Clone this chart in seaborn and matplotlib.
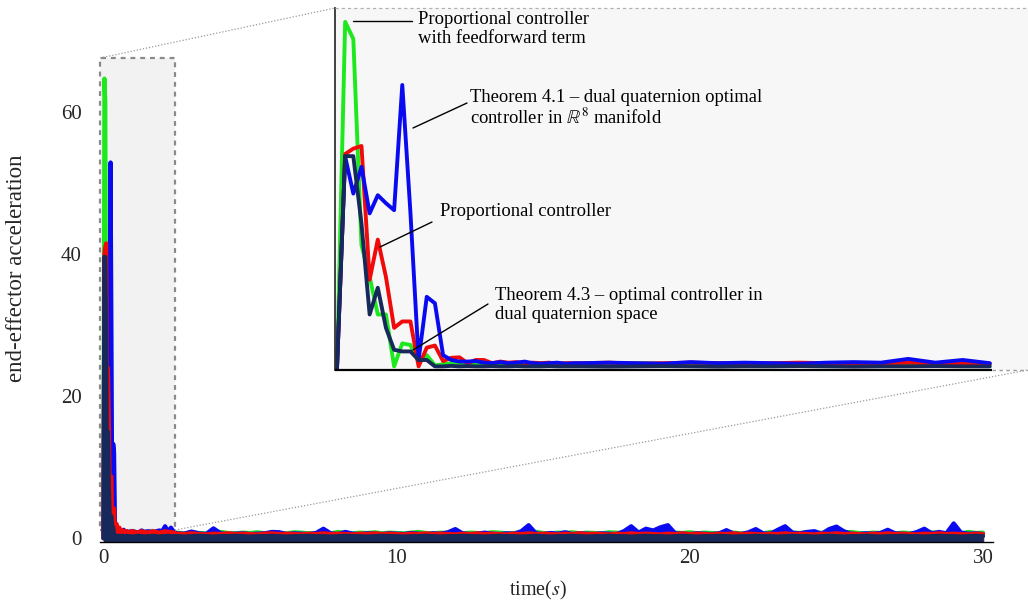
import numpy as np
import pandas as pd
import matplotlib
matplotlib.use("Agg")
import matplotlib.pyplot as plt
import seaborn as sns
from matplotlib.lines import Line2D
from matplotlib.patches import Rectangle

sns.set_style("white")
plt.rcParams['font.family'] = ['Liberation Serif', 'DejaVu Serif']
plt.rcParams['mathtext.fontset'] = 'stix'

# ---------------- data ----------------
t_fast = np.round(np.arange(30) * 0.03, 2)          # 0 .. 0.87 s
t_mid = np.round(np.arange(0.9, 2.45, 0.1), 2)      # 0.9 .. 2.4 s
t_slow = np.round(np.arange(2.5, 30.01, 0.25), 2)   # 2.5 .. 30 s
time = np.concatenate([t_fast, t_mid, t_slow])

green_fast = [0, 64.7, 61.5, 23, 17, 10, 10, 0.3, 4.6, 4.3,
              1.2, 2.4, 0.5, 0.7, 0.9, 0.6, 0.8, 0.7, 0.9, 0.8,
              0.7, 0.9, 0.8, 0.7, 0.8, 0.9, 0.7, 0.8, 0.8, 0.7]
red_fast = [0, 40, 41, 41.5, 16.5, 24, 17, 7.5, 8.7, 8.7,
            0.3, 3.8, 4.2, 1.3, 1.9, 2.0, 0.9, 1.5, 1.5, 0.9,
            1.2, 1.0, 1.1, 0.9, 1.0, 0.9, 1.0, 0.8, 0.9, 0.9]
blue_fast = [0, 39.5, 32.6, 37.6, 28.9, 32.3, 30.8, 29.5, 52.9, 29,
             1.5, 13.3, 12.1, 2.4, 1.5, 1.2, 1.2, 1.3, 1.0, 0.9,
             1.1, 0.9, 1.0, 1.2, 0.9, 0.8, 0.9, 1.0, 0.8, 0.9]
navy_fast = [0, 39.6, 39.6, 27, 10, 15, 7.5, 3.4, 3.1, 3.1,
             1.5, 1.5, 0.3, 0.3, 0.4, 0.3, 0.35, 0.3, 0.3, 0.35,
             0.3, 0.3, 0.35, 0.3, 0.3, 0.3, 0.35, 0.3, 0.3, 0.3]

green_mid = [0.8, 0.7, 0.9, 0.8, 0.7, 0.9, 0.8, 0.8, 0.7, 0.9, 0.8, 0.7, 0.8, 0.9, 0.8, 0.7]
red_mid = [0.9, 1.0, 0.8, 0.9, 1.0, 0.9, 0.8, 0.9, 1.0, 0.9, 0.8, 0.9, 1.0, 0.9, 0.9, 0.8]
blue_mid = [0.9, 1.0, 0.9, 0.8, 1.1, 0.9, 1.0, 0.9, 0.8, 1.0, 1.1, 1.0, 1.7, 1.0, 1.5, 0.9]
navy_mid = [0.3, 0.25, 0.3, 0.35, 0.3, 0.25, 0.3, 0.3, 0.35, 0.3, 0.25, 0.3, 0.3, 0.35, 0.3, 0.3]

green_slow = [0.8, 0.7, 0.85, 0.75, 0.7, 0.8, 0.9, 0.75, 0.7, 0.8,
              0.75, 0.85, 0.7, 0.8, 0.75, 0.7, 0.85, 0.8, 0.7, 0.75,
              0.8, 0.7, 0.9, 0.75, 0.7, 0.8, 0.75, 0.85, 0.7, 0.8,
              0.75, 0.7, 0.8, 0.9, 0.75, 0.7, 0.8, 0.75, 0.85, 0.7,
              0.8, 0.75, 0.7, 0.85, 0.8, 0.7, 0.75, 0.8, 0.7, 0.9,
              0.75, 0.7, 0.8, 0.75, 0.85, 0.7, 0.8, 0.75, 0.7, 0.85,
              0.8, 0.7, 0.75, 0.8, 0.7, 0.9, 0.75, 0.7, 0.8, 0.75,
              0.85, 0.7, 0.8, 0.75, 0.7, 0.85, 0.8, 0.7, 0.75, 0.8,
              0.7, 0.9, 0.75, 0.7, 0.8, 0.75, 0.85, 0.7, 0.8, 0.75,
              0.7, 0.8, 0.9, 0.75, 0.7, 0.8, 0.75, 0.85, 0.7, 0.8,
              0.75, 0.7, 0.8, 0.85, 0.7, 0.75, 0.8, 0.7, 0.9, 0.75,
              0.8]
red_slow = [0.65, 0.6, 0.7, 0.6, 0.55, 0.65, 0.6, 0.7, 0.6, 0.65,
            0.6, 0.55, 0.65, 0.7, 0.6, 0.65, 0.6, 0.55, 0.65, 0.6,
            0.7, 0.6, 0.65, 0.6, 0.55, 0.65, 0.6, 0.7, 0.6, 0.65,
            0.6, 0.55, 0.65, 0.6, 0.7, 0.6, 0.65, 0.6, 0.55, 0.65,
            0.6, 0.7, 0.6, 0.65, 0.6, 0.55, 0.65, 0.6, 0.7, 0.6,
            0.65, 0.6, 0.55, 0.65, 0.6, 0.7, 0.6, 0.65, 0.6, 0.55,
            0.65, 0.6, 0.7, 0.6, 0.65, 0.6, 0.55, 0.65, 0.6, 0.7,
            0.6, 0.65, 0.6, 0.55, 0.65, 0.6, 0.7, 0.6, 0.65, 0.6,
            0.55, 0.65, 0.6, 0.7, 0.6, 0.65, 0.6, 0.55, 0.65, 0.6,
            0.7, 0.6, 0.65, 0.6, 0.55, 0.65, 0.6, 0.7, 0.6, 0.65,
            0.6, 0.55, 0.65, 0.6, 0.7, 0.6, 0.65, 0.6, 0.55, 0.65,
            0.6]
blue_slow = [0.7, 0.65, 0.95, 0.7, 0.6, 1.4, 0.7, 0.6, 0.65, 0.7,
             0.6, 0.65, 0.7, 0.9, 0.85, 0.6, 0.7, 0.65, 0.6, 0.75,
             1.35, 0.7, 0.6, 0.9, 0.65, 0.6, 0.7, 0.65, 0.6, 0.7,
             0.65, 0.6, 0.75, 0.65, 0.6, 0.7, 0.65, 0.85, 1.3, 0.7,
             0.6, 0.65, 0.8, 0.65, 0.6, 0.7, 0.65, 1.0, 1.85, 0.7,
             0.6, 0.75, 0.65, 0.85, 0.6, 0.7, 0.65, 0.6, 0.7, 0.65,
             0.6, 1.0, 1.7, 0.8, 1.35, 1.1, 1.55, 1.85, 0.7, 0.65,
             0.6, 0.7, 0.65, 0.6, 0.7, 1.15, 0.65, 0.6, 0.85, 1.3,
             0.7, 0.65, 1.2, 1.7, 0.8, 0.7, 0.9, 1.0, 0.65, 1.3,
             1.65, 1.0, 0.65, 0.6, 0.7, 0.65, 0.75, 1.2, 0.7, 0.65,
             0.6, 0.9, 1.35, 0.7, 0.9, 0.7, 2.1, 0.8, 0.65, 0.7,
             0.6]
navy_slow = [0.3, 0.25, 0.3, 0.35, 0.3, 0.25, 0.3, 0.3, 0.35, 0.3,
             0.25, 0.3, 0.3, 0.35, 0.3, 0.25, 0.3, 0.3, 0.35, 0.3,
             0.3, 0.25, 0.3, 0.35, 0.3, 0.3, 0.25, 0.3, 0.35, 0.3,
             0.3, 0.25, 0.3, 0.3, 0.35, 0.3, 0.25, 0.3, 0.3, 0.35,
             0.3, 0.3, 0.25, 0.3, 0.35, 0.3, 0.3, 0.25, 0.3, 0.35,
             0.3, 0.25, 0.3, 0.3, 0.35, 0.3, 0.25, 0.3, 0.3, 0.35,
             0.3, 0.3, 0.25, 0.3, 0.35, 0.3, 0.3, 0.25, 0.3, 0.35,
             0.3, 0.25, 0.3, 0.3, 0.35, 0.3, 0.25, 0.3, 0.3, 0.35,
             0.3, 0.3, 0.25, 0.3, 0.35, 0.3, 0.3, 0.25, 0.3, 0.35,
             0.3, 0.25, 0.3, 0.3, 0.35, 0.3, 0.25, 0.3, 0.3, 0.35,
             0.3, 0.3, 0.25, 0.3, 0.35, 0.3, 0.3, 0.25, 0.3, 0.35,
             0.3]

series = {
    "ff": np.array(green_fast + green_mid + green_slow),
    "thm41": np.array(blue_fast + blue_mid + blue_slow),
    "prop": np.array(red_fast + red_mid + red_slow),
    "thm43": np.array(navy_fast + navy_mid + navy_slow),
}
colors = {"ff": "#1ee81e", "thm41": "#0a0af0", "prop": "#f00a0a", "thm43": "#16295a"}

W, H = 1028, 603
fig = plt.figure(figsize=(W / 100, H / 100), dpi=100)

def fx(x):
    return x / W

def fy(y):
    return 1 - y / H

# ---------------- main axes ----------------
ax = fig.add_axes([fx(100), fy(541.7), fx(993) - fx(100), fy(58) - fy(541.7)])
xlim = (-0.12, 30.34)
ylim = (-0.48, 67.6)
ax.set_xlim(*xlim)
ax.set_ylim(*ylim)

# spy box
ax.add_patch(Rectangle((-0.12, 1.17), 2.56, 67.6 - 1.17, facecolor="#f2f2f2",
                       edgecolor="#8a8a8a", lw=1.6, ls=(0, (2.2, 2.2)),
                       zorder=0.5, clip_on=False))

for i, key in enumerate(["ff", "thm41", "prop", "thm43"]):
    ax.fill_between(time, series[key], ylim[0], color=colors[key], lw=0, zorder=2 + i)
    sns.lineplot(x=time, y=series[key], ax=ax, color=colors[key], lw=3.0,
                 sort=False, zorder=2 + i, estimator=None)

ax.set_xticks([0, 10, 20, 30])
ax.set_xticks([5, 15, 25], minor=True)
ax.set_yticks([0, 20, 40, 60])
ax.tick_params(axis="x", which="both", direction="in", length=4, width=1,
               color="black", bottom=True, pad=5, labelsize=15)
ax.tick_params(axis="y", length=0, pad=13, labelsize=15, left=True)
for s in ["top", "right", "left"]:
    ax.spines[s].set_visible(False)
ax.spines["bottom"].set_color("black")
ax.spines["bottom"].set_linewidth(1.0)
ax.spines["bottom"].set_zorder(10)
ax.set_xlabel("time($s$)", fontsize=14.5)
ax.set_ylabel("end-effector acceleration", fontsize=16.5)
ax.xaxis.set_label_coords(0.49, -0.077)
ax.yaxis.set_label_coords(-0.082, 0.566)

# ---------------- inset ----------------
PXS = 272.0  # inset pixels per second
ax_in = fig.add_axes([fx(335), fy(370), fx(1028) - fx(335), fy(8) - fy(370)])
ax_in.set_facecolor("#f7f7f7")
ixlim = ((335 - 337) / PXS, (1028 - 337) / PXS)
iylim = (-0.374, 67.29)
ax_in.set_xlim(*ixlim)
ax_in.set_ylim(*iylim)
mask = time <= 2.41
for key in ["ff", "prop", "thm41", "thm43"]:
    sns.lineplot(x=time[mask], y=series[key][mask], ax=ax_in, color=colors[key],
                 lw=2.8, sort=False, estimator=None)
for s in ["top", "right", "bottom"]:
    ax_in.spines[s].set_visible(False)
ax_in.spines["left"].set_color("#333333")
ax_in.spines["left"].set_linewidth(1.3)
ax_in.set_xticks([])
ax_in.set_yticks([])
ax_in.set_xlabel("")
ax_in.set_ylabel("")
xb = (992 - 337) / PXS
ax_in.plot([ixlim[0], xb], [iylim[0], iylim[0]], color="black", lw=1.6,
           clip_on=False, zorder=10, solid_capstyle="butt")
ax_in.plot([xb, ixlim[1]], [iylim[0], iylim[0]], color="#9a9a9a", lw=1.0,
           ls=(0, (2.5, 2.5)), clip_on=False, zorder=10)
ax_in.plot([ixlim[0], ixlim[1]], [iylim[1], iylim[1]], color="#b0b0b0", lw=0.9,
           ls=(0, (2.5, 2.5)), clip_on=False, zorder=10)

def ip(x, y):
    return ((x - 337) / PXS, (368 - y) / 5.35)

txt_kw = dict(fontsize=13.4, ha="left", va="top", linespacing=1.12, color="black")
notes = [
    ("Proportional controller\nwith feedforward term", (418, 11), [(353, 20.5), (412, 20.5)]),
    ("Theorem 4.1 – dual quaternion optimal\ncontroller in $\\mathbb{R}^8$ manifold", (470, 89), [(413, 128), (467, 103)]),
    ("Proportional controller", (440, 203), [(380, 247), (432, 222)]),
    ("Theorem 4.3 – optimal controller in\ndual quaternion space", (495, 287), [(413, 350), (488, 304)]),
]
for text, (tx, ty), leader in notes:
    x0, y0 = ip(tx, ty)
    ax_in.text(x0, y0, text, **txt_kw)
    (ax1, ay1), (ax2, ay2) = ip(*leader[0]), ip(*leader[1])
    ax_in.plot([ax1, ax2], [ay1, ay2], color="black", lw=1.0, zorder=20)

# connection lines of the spy
for (x1, y1), (x2, y2) in [((100, 58), (335, 8)), ((175, 530), (1028, 370))]:
    fig.add_artist(Line2D([fx(x1), fx(x2)], [fy(y1), fy(y2)], color="#9a9a9a",
                          lw=0.9, ls=(0, (1, 1.5)), transform=fig.transFigure))

fig.savefig("out.png", dpi=100)
